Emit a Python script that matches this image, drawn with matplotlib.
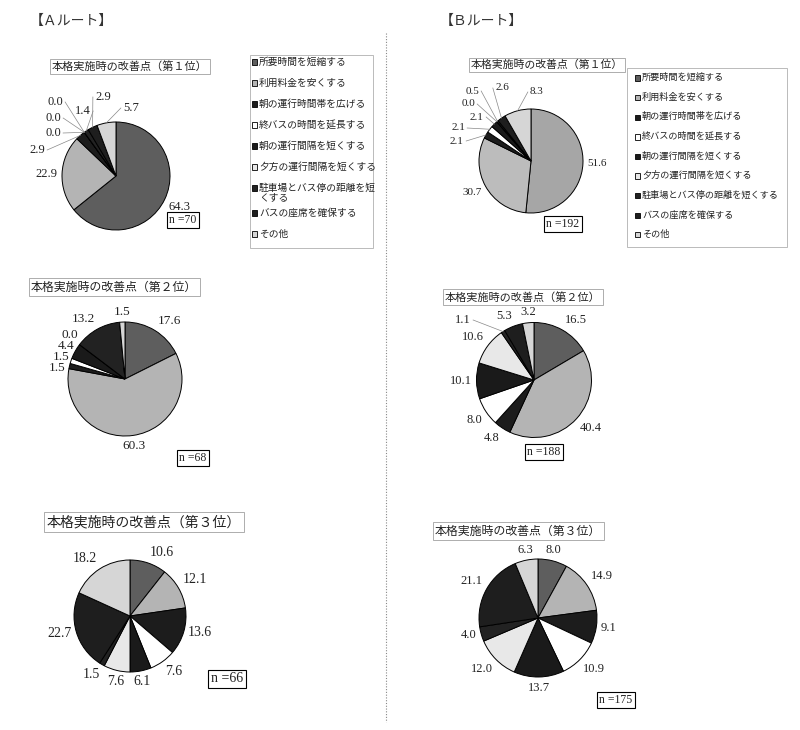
"""Recreate the A/B route improvement-point pie charts (1st-3rd rank)."""

import textwrap

import matplotlib.pyplot as plt
from matplotlib.patches import Rectangle
import numpy as np

plt.rcParams["font.family"] = ["Noto Sans CJK JP", "DejaVu Sans"]

# Data
CATEGORIES = [
    "所要時間を短縮する",
    "利用料金を安くする",
    "朝の運行時間帯を広げる",
    "終バスの時間を延長する",
    "朝の運行間隔を短くする",
    "夕方の運行間隔を短くする",
    "駐車場とバス停の距離を短くする",
    "バスの座席を確保する",
    "その他",
]
ROUTES = ["【Ａルート】", "【Ｂルート】"]
RANKS = ["第１位", "第２位", "第３位"]

A_RANK1 = [64.3, 22.9, 2.9, 0.0, 0.0, 0.0, 1.4, 2.9, 5.7]
A_RANK2 = [17.6, 60.3, 1.5, 1.5, 4.4, 0.0, 13.2, 0.0, 1.5]
A_RANK3 = [10.6, 12.1, 13.6, 7.6, 6.1, 7.6, 1.5, 22.7, 18.2]
B_RANK1 = [51.6, 30.7, 2.1, 2.1, 2.1, 0.0, 0.5, 2.6, 8.3]
B_RANK2 = [16.5, 40.4, 4.8, 8.0, 10.1, 10.6, 1.1, 5.3, 3.2]
B_RANK3 = [8.0, 14.9, 9.1, 10.9, 13.7, 12.0, 4.0, 21.1, 6.3]
A_N = [70, 68, 66]
B_N = [192, 188, 175]

# Style
COLORS = ["#5e5e5e", "#b4b4b4", "#1c1c1c", "#ffffff", "#1a1a1a",
          "#e8e8e8", "#222222", "#1e1e1e", "#d6d6d6"]
NUM_FONT = "Liberation Serif"

# Layout in pixel coordinates (x right, y down)
# manual: slice index -> (label x, label y, leader line) or None to hide
LAYOUT = [
    dict(center=(116, 176), r=54, title=(52, 66.5, 8.0), nbox=(183, 220, 8.5), fs=9,
         manual={2: (37, 150, True), 3: (53, 133, True), 4: (53, 118, True),
                 5: (55, 102, True), 6: (83, 111, True), 7: (103, 97, True),
                 8: (131, 108, True)}),
    dict(center=(125, 379), r=57, title=(31, 287, 8.6), nbox=(193, 458, 8.5), fs=9.5,
         manual={2: (57, 368, False), 3: (61, 357, False), 4: (66, 346, False),
                 5: (70, 335, False), 7: None}),
    dict(center=(130, 616), r=56, title=(47, 522, 10), nbox=(227, 679, 10), fs=10,
         manual={}),
    dict(center=(531, 161), r=52, title=(471, 65, 7.8), nbox=(563, 224, 8.5), fs=8,
         manual={2: (457, 141, True), 3: (458, 128, True), 4: (477, 117, True),
                 5: (468, 104, True), 6: (472, 91, True), 7: (502, 88, True),
                 8: (537, 92, True)},
         colors={0: "#a6a6a6", 1: "#bcbcbc"}),
    dict(center=(534, 380), r=57.5, title=(445, 297, 8.0), nbox=(544, 452, 8.5), fs=9,
         manual={6: (463, 320, True)}),
    dict(center=(538, 618), r=59, title=(435, 531, 8.6), nbox=(616, 700, 8.5), fs=9,
         manual={}),
]

LEGENDS = [
    dict(box=(250, 55, 123, 193), marker_x=252, text_x=259, y0=62, step=21, fs=7, wrap=12),
    dict(box=(627, 68, 160, 179), marker_x=635, text_x=642, y0=78, step=19.6, fs=6.6, wrap=None),
]


def draw_pie(ax, values, n, rank, lay):
    cx, cy = lay["center"]
    r = lay["r"]
    colors = list(COLORS)
    for i, c in lay.get("colors", {}).items():
        colors[i] = c
    # y axis is inverted: start at 12 o'clock and go visually clockwise
    ax.pie(values, colors=colors, center=(cx, cy), radius=r,
           startangle=-90, counterclock=True,
           wedgeprops=dict(edgecolor="black", linewidth=0.7))

    vals = np.asarray(values, dtype=float)
    mids = (np.cumsum(vals) - vals / 2) / vals.sum()
    fs = lay["fs"]
    for i, v in enumerate(vals):
        phi = 2 * np.pi * mids[i]
        s, c = np.sin(phi), np.cos(phi)
        label = f"{v:.1f}"
        manual = lay["manual"]
        if i in manual:
            m = manual[i]
            if m is None:
                continue
            lx, ly, leader = m
            ax.text(lx, ly, label, ha="center", va="center", fontsize=fs,
                    family=NUM_FONT, color="#222")
            if leader:
                px, py = cx + r * s, cy - r * c
                hw = 0.23 * len(label) * fs * 100 / 72 + 1.5
                sx = lx + hw if lx < px else lx - hw
                ax.plot([sx, px], [ly, py], color="#888", lw=0.5)
        else:
            px, py = cx + 1.08 * r * s, cy - 1.08 * r * c
            ha = "left" if s > 0.3 else "right" if s < -0.3 else "center"
            va = "bottom" if c > 0.3 else "top" if c < -0.3 else "center"
            ax.text(px, py, label, ha=ha, va=va, fontsize=fs,
                    family=NUM_FONT, color="#222")

    tx, ty, tfs = lay["title"]
    ax.text(tx, ty, f"本格実施時の改善点（{rank}）", ha="left", va="center",
            fontsize=tfs, color="#222",
            bbox=dict(boxstyle="square,pad=0.2", fc="white", ec="#a0a0a0", lw=0.6))

    nx, ny, nfs = lay["nbox"]
    ax.text(nx, ny, f"n ={n}", ha="center", va="center", fontsize=nfs,
            family=NUM_FONT, color="#222",
            bbox=dict(boxstyle="square,pad=0.2", fc="white", ec="black", lw=0.8))


def draw_legend(ax, leg):
    bx, by, bw, bh = leg["box"]
    ax.add_patch(Rectangle((bx, by), bw, bh, fc="white", ec="#b0b0b0", lw=0.6))
    y = leg["y0"]
    line_h = leg["fs"] * 100 / 72 * 1.0
    for cat, color in zip(CATEGORIES, COLORS):
        if leg["wrap"]:
            lines = textwrap.wrap(cat, leg["wrap"])
        else:
            lines = [cat]
        ax.add_patch(Rectangle((leg["marker_x"], y - 2.7), 5.4, 5.4,
                               fc=color, ec="black", lw=0.6))
        ax.text(leg["text_x"], y - line_h * 0.55, "\n".join(lines), ha="left", va="top",
                fontsize=leg["fs"], color="#222", linespacing=0.95)
        y += leg["step"] + (len(lines) - 1) * 4


fig = plt.figure(figsize=(8, 7.3), dpi=100)
ax = fig.add_axes([0, 0, 1, 1])

series = [A_RANK1, A_RANK2, A_RANK3, B_RANK1, B_RANK2, B_RANK3]
counts = A_N + B_N
for k, (vals, n, lay) in enumerate(zip(series, counts, LAYOUT)):
    draw_pie(ax, vals, n, RANKS[k % 3], lay)

for leg in LEGENDS:
    draw_legend(ax, leg)

# Route headers
ax.text(30, 21, ROUTES[0], ha="left", va="center", fontsize=10, color="#333")
ax.text(440, 21, ROUTES[1], ha="left", va="center", fontsize=10, color="#333")

# Dotted divider between routes
ax.plot([386, 386], [33, 722], color="#888", lw=0.8, ls=(0, (1, 1.5)))

ax.set_xlim(0, 800)
ax.set_ylim(730, 0)
ax.set_aspect("auto")
ax.axis("off")

fig.savefig("out.png", dpi=100, facecolor="white")
plt.close(fig)
